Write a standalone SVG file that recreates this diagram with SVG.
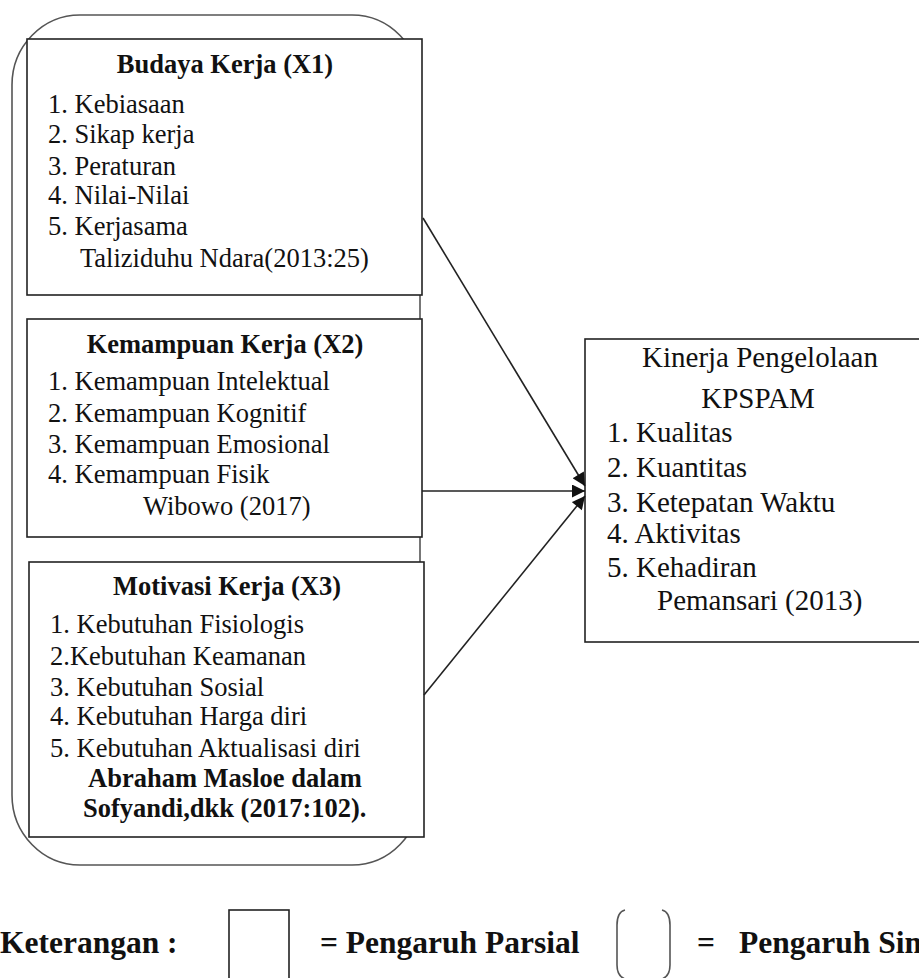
<svg xmlns="http://www.w3.org/2000/svg" width="919" height="978" viewBox="0 0 919 978">
<style>
  .box { fill: #ffffff; stroke: #222222; stroke-width: 1.6; }
  .container { fill: none; stroke: #555555; stroke-width: 1.6; }
  .t { fill: #111111; }
  .item { font-size: 26.5px; }
  .title { font-size: 26.5px; font-weight: bold; text-anchor: middle; }
  .rt { font-size: 29px; }
  .leg { font-size: 31.5px; font-weight: bold; }
  .conn { stroke: #222222; stroke-width: 1.6; fill: none; }
</style>
<defs>
  <marker id="arrow" viewBox="0 0 10 10" refX="10" refY="5" markerUnits="userSpaceOnUse" markerWidth="14" markerHeight="13" orient="auto">
    <path d="M0,0 L10,5 L0,10 z" fill="#111111"/>
  </marker>
</defs>
<rect width="919" height="978" fill="#ffffff"/>

<g font-family="'Liberation Serif', 'DejaVu Serif', serif">
<g id="container">
  <rect class="container" x="12" y="15" width="408" height="850" rx="68" ry="70"/>
</g>

<g id="budaya-kerja">
  <rect class="box" x="27" y="39" width="395" height="256"/>
  <text class="t title" x="225" y="73">Budaya Kerja (X1)</text>
  <text class="t item" x="48" y="113">1. Kebiasaan</text>
  <text class="t item" x="48" y="143">2. Sikap kerja</text>
  <text class="t item" x="48" y="175">3. Peraturan</text>
  <text class="t item" x="48" y="204">4. Nilai-Nilai</text>
  <text class="t item" x="48" y="235">5. Kerjasama</text>
  <text class="t item" x="80" y="267">Taliziduhu Ndara(2013:25)</text>
</g>

<g id="kemampuan-kerja">
  <rect class="box" x="27" y="319" width="395" height="218"/>
  <text class="t title" x="225" y="353">Kemampuan Kerja (X2)</text>
  <text class="t item" x="48" y="390">1. Kemampuan Intelektual</text>
  <text class="t item" x="48" y="422">2. Kemampuan Kognitif</text>
  <text class="t item" x="48" y="453">3. Kemampuan Emosional</text>
  <text class="t item" x="48" y="483">4. Kemampuan Fisik</text>
  <text class="t item" x="143" y="515">Wibowo (2017)</text>
</g>

<g id="motivasi-kerja">
  <rect class="box" x="29" y="562" width="395" height="275"/>
  <text class="t title" x="227" y="595">Motivasi Kerja (X3)</text>
  <text class="t item" x="50" y="633">1. Kebutuhan Fisiologis</text>
  <text class="t item" x="50" y="665">2.Kebutuhan Keamanan</text>
  <text class="t item" x="50" y="696">3. Kebutuhan Sosial</text>
  <text class="t item" x="50" y="725">4. Kebutuhan Harga diri</text>
  <text class="t item" x="50" y="757">5. Kebutuhan Aktualisasi diri</text>
  <text class="t item" x="88" y="787" font-weight="bold">Abraham Masloe dalam</text>
  <text class="t item" x="83" y="817" font-weight="bold">Sofyandi,dkk (2017:102).</text>
</g>

<g id="kinerja">
  <rect class="box" x="585" y="339" width="345" height="303"/>
  <text class="t rt" x="760" y="367" text-anchor="middle">Kinerja Pengelolaan</text>
  <text class="t rt" x="758" y="408" text-anchor="middle">KPSPAM</text>
  <text class="t rt" x="607" y="442">1. Kualitas</text>
  <text class="t rt" x="607" y="477">2. Kuantitas</text>
  <text class="t rt" x="607" y="512">3. Ketepatan Waktu</text>
  <text class="t rt" x="607" y="543">4. Aktivitas</text>
  <text class="t rt" x="607" y="577">5. Kehadiran</text>
  <text class="t rt" x="657" y="610">Pemansari (2013)</text>
</g>

<g id="connectors">
  <line class="conn" x1="423" y1="218" x2="585" y2="486" marker-end="url(#arrow)"/>
  <line class="conn" x1="422" y1="491" x2="585" y2="491" marker-end="url(#arrow)"/>
  <line class="conn" x1="424" y1="695" x2="585" y2="496" marker-end="url(#arrow)"/>
</g>

<g id="legend">
  <text class="t leg" x="0" y="953">Keterangan :</text>
  <rect class="box" x="229" y="910" width="60" height="90"/>
  <text class="t leg" x="320" y="953">= Pengaruh Parsial</text>
  <path class="container" d="M625,910 Q617,912 617,925 L617,965 Q617,976 625,979"/>
  <path class="container" d="M662,910 Q670,912 670,925 L670,965 Q670,976 662,979"/>
  <text class="t leg" x="697" y="953">=</text>
  <text class="t leg" x="739" y="953">Pengaruh Simultan</text>
</g>
</g>
</svg>
